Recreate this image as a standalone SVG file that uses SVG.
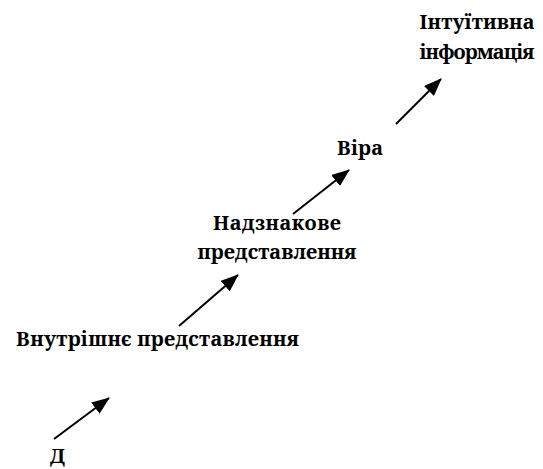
<svg xmlns="http://www.w3.org/2000/svg" width="543" height="469" viewBox="0 0 543 469">
<defs>
<marker id="ah" markerWidth="18" markerHeight="14" refX="17" refY="7" orient="auto" markerUnits="userSpaceOnUse" viewBox="0 0 18 14">
<path d="M0,0 L18,7 L0,14 z" fill="#000"/>
</marker>
<style>
text{font-family:'Noto Serif','DejaVu Serif',serif;font-weight:700;font-size:20px;fill:#000;text-anchor:middle}
.c line{stroke:#000;stroke-width:2;marker-end:url(#ah)}
</style>
</defs>
<rect width="543" height="469" fill="#fff"/>
<g id="n-intuitive"><text x="477" y="29" textLength="115">Інтуїтивна</text><text x="477" y="59" textLength="115">інформація</text></g>
<g id="n-vira"><text x="360" y="155" textLength="46">Віра</text></g>
<g id="n-nadznak"><text x="277" y="230" textLength="128">Надзнакове</text><text x="277" y="259" textLength="159">представлення</text></g>
<g id="n-vnutr"><text x="157.5" y="346" textLength="283">Внутрішнє представлення</text></g>
<g id="n-d"><text x="57.5" y="463">Д</text></g>
<g class="c" id="connectors">
<line x1="54" y1="439" x2="109" y2="398"/>
<line x1="179" y1="326" x2="238" y2="275"/>
<line x1="293" y1="214" x2="349" y2="170"/>
<line x1="396" y1="124" x2="441" y2="79"/>
</g>
</svg>
